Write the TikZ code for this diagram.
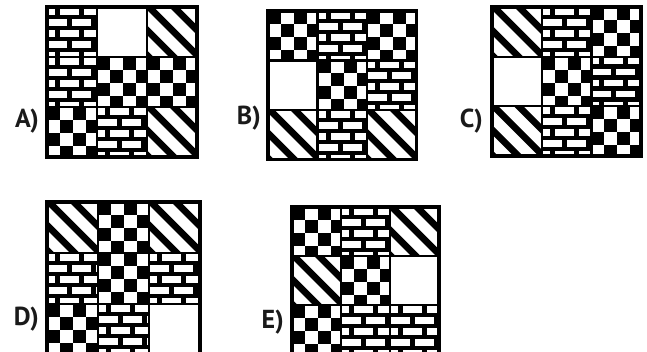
\documentclass[tikz,border=0pt]{standalone}
\usepackage{fontspec}
\setmainfont{PT Sans}
\usetikzlibrary{positioning}
\definecolor{ink}{HTML}{1A1A1A}

% cell fillings, drawn from the cell's top left corner (y runs down)
\newcommand{\fillblank}{}
\newcommand{\fillbrick}{%
  \fill[black] (-2,-2) rectangle (56,56);
  \foreach \r in {0,...,4} {
    \pgfmathsetmacro{\yo}{1+11*\r}
    \pgfmathsetmacro{\xo}{mod(\r,2)*12-11}
    \foreach \b in {0,...,3}
      \fill[white] ({\xo+24*\b},\yo) rectangle ++(19,6.8);
  }}
\newcommand{\fillstripe}{%
  \foreach \c in {-78,-53,...,22}
    \fill[black] (\c,0) -- ++(9.5,0) -- ++(60,60) -- ++(-9.5,0) -- cycle;}
\newcommand{\fillcheck}{%
  \foreach \i in {0,26} \foreach \j in {0,26} {
    \fill[black] (\i,\j) rectangle ++(13,13);
    \fill[black] (\i+13,\j+13) rectangle ++(13,13);
  }}

% one 3x3 answer grid: name, left, top, cell size, cell kinds (row by row)
\newcommand{\answergrid}[5]{%
  \foreach \kind [count=\k from 0] in {#5} {
    \pgfmathtruncatemacro{\row}{int(\k/3)}
    \pgfmathtruncatemacro{\col}{mod(\k,3)}
    \node[cell=#4] (#1-\row\col) at ({#2+(\col+0.5)*#4},{#3+(\row+0.5)*#4}) {};
    \begin{scope}
      \clip (#1-\row\col.north west) rectangle (#1-\row\col.south east);
      \begin{scope}[shift={(#1-\row\col.north west)}]
        \csname fill\kind\endcsname
      \end{scope}
    \end{scope}
    \draw[cellline] (#1-\row\col.north west) rectangle (#1-\row\col.south east);
  }
  \draw[frame] (#1-00.north west) rectangle (#1-22.south east);
}

\tikzset{
  cell/.style={fill=white,minimum size=#1,inner sep=0pt,outer sep=0pt},
  cellline/.style={draw=black,line width=2.2pt},
  frame/.style={draw=black,line width=3.4pt},
  lbl/.style={font=\bfseries\fontsize{26}{30}\selectfont,text=ink,inner sep=0pt,anchor=base east}
}

\begin{document}
\begin{tikzpicture}[x=1pt,y=-1pt]
  \useasboundingbox[fill=white] (0,0) rectangle (647,352);

  \answergrid{A}{47}{7}{50}{brick,blank,stripe,brick,check,check,check,brick,stripe}
  \answergrid{B}{268}{11}{49.5}{check,brick,check,blank,check,brick,stripe,brick,stripe}
  \answergrid{C}{492}{7}{49.7}{stripe,brick,check,blank,check,brick,stripe,brick,check}
  \answergrid{D}{47}{202}{51}{stripe,check,stripe,brick,check,brick,check,brick,blank}
  \answergrid{E}{292}{207}{49}{check,brick,stripe,stripe,check,blank,check,brick,brick}

  \node[lbl] (labA) at (39,128) {A)};
  \node[lbl] (labB) at (261,125) {B)};
  \node[lbl] (labC) at (483,128) {C)};
  \node[lbl] (labD) at (39,325) {D)};
  \node[lbl] (labE) at (284,328) {E)};
\end{tikzpicture}
\end{document}
